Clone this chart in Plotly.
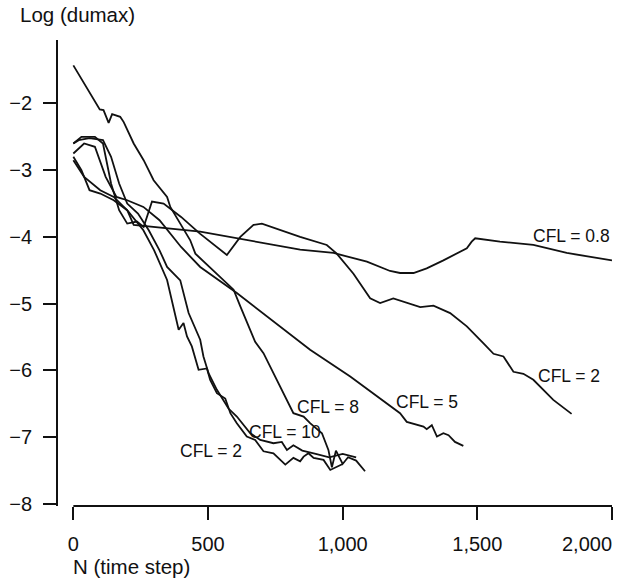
import plotly.graph_objects as go

# ---- data ----
cfl08_x = [0, 40, 100, 150, 200, 224, 471, 650, 842, 966, 1090, 1176, 1213, 1263, 1312, 1374, 1461, 1479, 1492, 1584, 1708, 1832, 1918, 2000]
cfl08_y = [-2.85, -3.1, -3.3, -3.4, -3.6, -3.82, -3.92, -4.05, -4.19, -4.24, -4.37, -4.51, -4.54, -4.54, -4.47, -4.35, -4.17, -4.07, -4.02, -4.07, -4.12, -4.24, -4.3, -4.35]

cfl2a_x = [0, 30, 80, 110, 140, 170, 200, 236, 261, 292, 335, 400, 470, 530, 570, 620, 669, 700, 842, 941, 978, 1040, 1102, 1139, 1188, 1288, 1337, 1399, 1461, 1522, 1560, 1597, 1634, 1671, 1708, 1782, 1850]
cfl2a_y = [-2.6, -2.5, -2.5, -2.6, -3.2, -3.6, -3.8, -3.77, -3.85, -3.47, -3.5, -3.7, -3.95, -4.15, -4.27, -4.0, -3.82, -3.8, -4.0, -4.12, -4.25, -4.55, -4.92, -4.99, -4.92, -5.05, -5.03, -5.14, -5.34, -5.59, -5.75, -5.79, -6.02, -6.05, -6.14, -6.44, -6.65]

cfl5_x = [0, 40, 80, 120, 160, 200, 260, 320, 400, 471, 607, 879, 1028, 1213, 1238, 1263, 1300, 1312, 1331, 1350, 1374, 1393, 1417, 1448]
cfl5_y = [-2.75, -2.6, -2.65, -3.1, -3.4, -3.45, -3.55, -3.75, -4.15, -4.45, -4.84, -5.69, -6.09, -6.64, -6.77, -6.8, -6.84, -6.88, -6.82, -6.99, -6.94, -6.97, -7.07, -7.13]

cfl8_x = [0, 98, 112, 131, 144, 174, 187, 224, 261, 298, 348, 360, 397, 434, 453, 520, 595, 620, 675, 706, 768, 817, 855, 879, 923, 947, 960, 975, 1000, 1020, 1050, 1083]
cfl8_y = [-1.43, -2.09, -2.1, -2.29, -2.16, -2.2, -2.28, -2.6, -2.85, -3.15, -3.4, -3.55, -3.8, -4.05, -4.25, -4.5, -4.79, -5.04, -5.57, -5.74, -6.24, -6.64, -6.69, -6.79, -6.94, -7.19, -7.45, -7.2, -7.4, -7.3, -7.35, -7.51]

cfl10_x = [0, 20, 60, 110, 140, 170, 200, 240, 280, 320, 348, 397, 428, 471, 483, 502, 533, 576, 607, 657, 694, 743, 774, 793, 817, 850, 900, 950, 1000, 1050]
cfl10_y = [-2.6, -2.55, -2.52, -2.55, -2.8, -3.2, -3.5, -3.65, -3.9, -4.2, -4.45, -4.65, -5.14, -5.54, -5.79, -6.04, -6.29, -6.57, -6.69, -6.94, -7.04, -7.09, -7.07, -7.19, -7.12, -7.2, -7.25, -7.3, -7.25, -7.3]

cfl2b_x = [0, 30, 60, 100, 150, 200, 260, 300, 348, 366, 391, 409, 422, 440, 465, 496, 508, 533, 564, 583, 607, 644, 675, 706, 743, 787, 817, 842, 855, 873, 892, 929, 954, 1000]
cfl2b_y = [-2.8, -3.0, -3.3, -3.35, -3.45, -3.6, -3.9, -4.2, -4.645, -4.94, -5.39, -5.29, -5.49, -5.64, -5.99, -5.97, -6.14, -6.34, -6.42, -6.64, -6.79, -6.99, -7.04, -7.21, -7.24, -7.41, -7.31, -7.36, -7.29, -7.24, -7.31, -7.34, -7.49, -7.4]

series = [
    (cfl08_x, cfl08_y), (cfl2a_x, cfl2a_y), (cfl5_x, cfl5_y),
    (cfl8_x, cfl8_y), (cfl10_x, cfl10_y), (cfl2b_x, cfl2b_y),
]

labels = ["CFL = 0.8", "CFL = 2", "CFL = 5", "CFL = 8", "CFL = 10", "CFL = 2"]
label_x = [2000, 1962, 1191, 824, 645, 390]
label_y = [-3.99, -6.09, -6.47, -6.55, -6.92, -7.21]
label_anchor = ["right", "right", "left", "left", "left", "left"]

x_ticks = [0, 500, 1000, 1500, 2000]
x_tick_text = ["0", "500", "1,000", "1,500", ""]
y_ticks = [-8, -7, -6, -5, -4, -3, -2]

FONT = "Liberation Sans, Arial, Helvetica, sans-serif"
INK = "#111111"
TICK_SIZE = 20
TITLE_SIZE = 20.5

fig = go.Figure()
for xs, ys in series:
    fig.add_trace(go.Scatter(x=xs, y=ys, mode="lines",
                             line=dict(color=INK, width=1.8),
                             showlegend=False, hoverinfo="skip"))

for t, lx, ly, an in zip(labels, label_x, label_y, label_anchor):
    fig.add_annotation(x=lx, y=ly, text=t, showarrow=False, xanchor=an,
                       font=dict(family=FONT, size=17.5, color=INK))

# last x tick label kept inside the page (right-aligned on its tick)
fig.add_annotation(x=2000, y=0, xref="x", yref="paper", yanchor="middle",
                   xanchor="right", xshift=2, yshift=-38, text="2,000",
                   showarrow=False, font=dict(family=FONT, size=TICK_SIZE, color=INK))

# x axis line starts at N = 0
fig.add_shape(type="line", xref="x", yref="paper", x0=0, x1=2000, y0=0, y1=0,
              line=dict(color=INK, width=1.8))

fig.add_annotation(x=0, y=1, xref="paper", yref="paper", xanchor="left",
                   yanchor="middle", xshift=-40, yshift=26, text="Log (dumax)",
                   showarrow=False, font=dict(family=FONT, size=TITLE_SIZE, color=INK))
fig.add_annotation(x=0, y=0, xref="x", yref="paper", xanchor="left",
                   yanchor="middle", xshift=-2, yshift=-60, text="N (time step)",
                   showarrow=False, font=dict(family=FONT, size=TITLE_SIZE, color=INK))

fig.update_layout(
    width=619, height=584,
    margin=dict(l=58, r=7, t=40, b=78),
    paper_bgcolor="white", plot_bgcolor="white",
    font=dict(family=FONT, size=TICK_SIZE, color=INK),
    xaxis=dict(range=[-57, 2000], tickvals=x_ticks, ticktext=x_tick_text,
               showline=False, showgrid=False, zeroline=False,
               ticks="outside", ticklen=13, tickwidth=1.8, tickcolor=INK,
               ticklabelstandoff=7),
    yaxis=dict(range=[-8.03, -1.05], tickvals=y_ticks,
               showline=True, linecolor=INK, linewidth=1.8,
               showgrid=False, zeroline=False,
               ticks="outside", ticklen=13, tickwidth=1.8, tickcolor=INK,
               ticklabelstandoff=7),
)

# the page's default 8px body margin would push the figure off the window
fig.write_html("out.html", config={"displayModeBar": False},
               post_script="document.body.style.margin='0';document.body.style.padding='0';")
